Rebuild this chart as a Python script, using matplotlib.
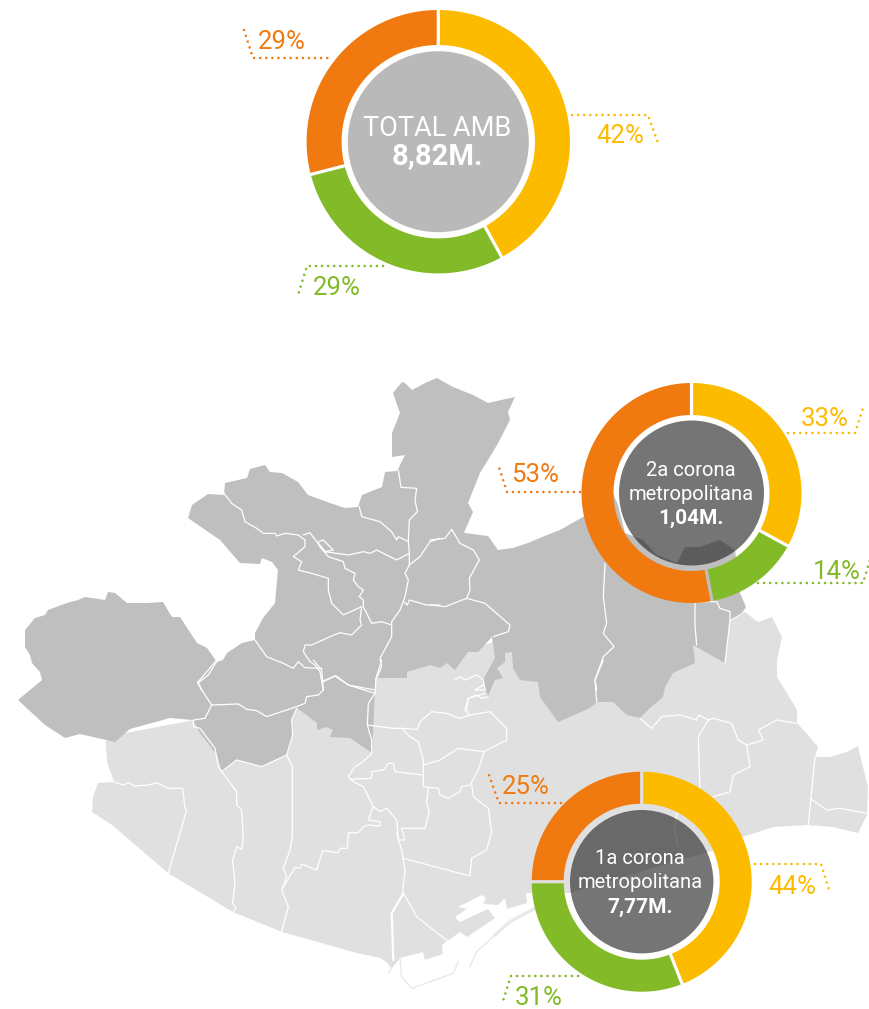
import numpy as np
import matplotlib
matplotlib.use('Agg')
import matplotlib.pyplot as plt
from matplotlib.patches import Polygon, Circle

W, H = 870, 1009

YELLOW = '#FDBB00'
GREEN = '#82BA28'
ORANGE = '#F17A10'
DARK_MAP = '#BFBFBF'
LIGHT_MAP = '#E0E0E0'
PORT = '#E9E9E9'

# share per donut, clockwise from the top: yellow, green, orange
total_amb = [42, 29, 29]
corona_2a = [33, 14, 53]
corona_1a = [44, 31, 25]
ring_colors = [YELLOW, GREEN, ORANGE]

total_title = 'TOTAL AMB'
total_value = '8,82M.'
corona_2a_title = ['2a corona', 'metropolitana']
corona_2a_value = '1,04M.'
corona_1a_title = ['1a corona', 'metropolitana']
corona_1a_value = '7,77M.'

# map outlines, picture pixels
dark_outline = [(393,393),(402,382),(405,383),(412,390),(427,382),(437,378),(453,387),(473,395),(488,403),(515,397),
    (508,412),(510,420),(497,445),(480,473),(468,503),(473,512),(463,535),(453,529),(465,533),(480,535),(488,536),
    (498,550),(513,548),(528,543),(547,535),(560,530),(583,517),(613,493),(618,505),(625,533),(643,540),(657,555),
    (677,563),(685,547),(700,547),(720,540),(735,550),(740,593),(746,607),(742,613),(730,620),(725,663),(707,653),
    (693,645),(695,663),(673,673),(665,687),(663,697),(650,708),(640,718),(627,715),(613,702),(597,702),(590,708),
    (558,722),(540,697),(538,682),(520,680),(513,668),(512,652),(505,653),(505,662),(497,668),(503,678),(495,680),
    (488,696),(483,680),(495,658),(492,637),(478,652),(468,652),(455,670),(447,663),(440,668),(430,665),(407,672),
    (407,678),(375,678),(375,693),
    (372,753),(350,738),(330,737),(333,730),(327,727),(317,730),(317,723),(297,708),(292,720),(293,735),(287,755),
    (262,767),(237,760),(222,772),(217,755),(200,733),(193,720),(170,718),(130,729),(115,742),(80,734),(65,738),
    (45,725),(18,700),(42,680),(40,672),(32,663),(30,655),(25,647),(25,630),(35,618),(45,615),(48,610),(67,603),
    (78,600),(85,597),(105,600),(108,592),(115,593),(127,603),(147,603),(163,602),(172,617),(180,617),(197,643),
    (207,648),(217,662),(223,660),(227,653),(242,643),(255,640),(255,633),(263,618),(275,603),(278,570),(272,562),
    (262,558),(260,564),(240,563),(220,540),(188,518),(192,505),(208,494),(224,495),(225,483),(247,478),(250,469),
    (265,465),(270,472),(282,473),(298,482),(308,495),(330,503),(345,508),(358,507),(362,495),(382,487),(385,472),
    (397,471),(405,455),(392,457),(392,433),(400,413)]
light_outline = [(105,742),(115,735),(300,700),(500,640),(700,640),(745,612),(758,622),(772,617),(782,637),(777,660),
    (777,677),(785,690),(797,710),(797,723),(808,735),(818,747),(815,757),(830,757),(847,752),(858,746),(863,767),
    (868,787),(867,815),(858,833),(833,827),(808,825),(773,827),(743,837),(715,850),(680,860),(570,893),(533,893),
    (526,893),(527,903),(507,909),(505,898),(498,905),(483,904),(486,898),(482,895),(458,907),(467,909),(455,917),
    (460,922),(488,909),(495,918),(467,937),(460,932),(442,945),(443,954),(425,960),(423,952),(400,958),(392,968),
    (388,963),(380,958),(357,953),(282,932),(233,912),
    (168,873),(112,825),(92,812),(93,797),(98,783),(113,782),(107,763)]

# inner borders (crop pixels, 3x)
borders_nw = [
    [(672,370),(695,400),(725,420),(735,455),(770,475),(790,490),(825,490),(830,498),(855,490),(895,495),(915,510),(915,530),(880,560),(905,575),(895,600),(935,610),(985,625),(985,660),(995,700),(1030,735),(1085,710),(1080,750),(1085,765),(1055,795),(1020,788),(990,800),(935,825),(915,825),(910,845),(930,875),(945,885),(960,905),(970,960)],
    [(910,495),(930,488),(950,515),(975,545),(1045,555),(1090,545),(1110,550),(1130,540),(1190,570),(1228,550)],
    [(955,515),(970,510),(1000,540),(975,545),(955,520),(960,530),(985,560),(1030,575),(1035,595),(1065,610),(1060,630),(1075,650),(1090,660),(1078,680),(1090,690),(1090,710),(1115,760),(1145,755),(1175,765)],
    [(1195,300),(1203,352),(1250,355),(1245,390),(1252,425),(1228,450),(1225,510),(1228,550),(1228,585),(1215,610),(1225,630),(1215,680),(1200,720),(1175,755),(1175,800),(1140,865),(1145,890),(1130,925)],
    [(1078,410),(1085,440),(1140,455),(1175,485),(1190,510),(1195,500),(1225,515)],
    [(1228,585),(1260,560),(1290,515),(1320,505)],
    [(1210,695),(1222,705),(1228,690),(1280,705),(1320,705)],
    [(765,810),(800,860),(850,880),(880,895),(895,875),(915,893),(965,895)],
    [(650,875),(625,915),(595,938),(605,960)],
    [(970,935),(1005,918),(1045,945),(1125,960)],
]
borders_ne = [
    [(0,510),(45,505),(65,478),(90,520),(130,540),(148,570),(118,625),(120,660),(110,685),(165,700),(240,765),(235,785),(190,800)],
    [(0,705),(45,710),(110,685)],
    [(525,580),(520,680),(530,760),(520,790),(552,830),(520,860),(495,930),(500,960)],
    [(795,700),(795,765),(800,825)],
    [(795,695),(860,695),(870,715),(900,725),(900,750),(885,880)],
]
borders_sw = [
    [(410,0),(385,30),(352,68),(375,105),(395,135),(375,175),(340,180),(340,200),(360,205),(405,265),(415,320),(425,335),(470,395),(470,435),(485,450),(490,530),(485,568),(470,560),(458,600),(465,670),(458,730),(468,745),(460,755)],
    [(395,135),(475,132),(500,148),(530,152),(560,170),(590,160),(650,140),(675,130),(680,110),(715,105),(730,90),(725,30),(700,0)],
    [(725,65),(767,47),(805,75),(885,100)],
    [(905,0),(888,55),(885,100),(865,130),(862,195),(875,240),(875,280),(850,305),(825,320),(805,350),(820,365),(850,380),(880,440),(865,480),(900,485),(900,498),(865,495),(850,500),(835,518),(805,518),(802,565),(780,565),(775,578),(728,572),(710,630),(665,612),(660,625),(645,622),(605,690),(625,740),(605,815)],
    [(650,145),(635,180),(638,225),(620,285),(637,320),(637,530),(630,570),(610,625),(620,650),(605,690)],
    [(620,285),(545,320),(470,300),(425,335)],
    [(862,195),(940,205),(965,205),(990,230),(1015,245),(1030,300),(1030,380),(1075,385),(1080,405),(1105,415),(1140,395),(1145,380),(1170,375),(1195,330),(1212,275),(1280,240),(1280,205),(1230,155),(1170,165),(1140,175),(1100,160),(1055,155),(1020,185),(1012,208),(965,205)],
    [(1030,315),(1080,300),(1135,265),(1212,275)],
    [(810,358),(875,355),(875,335),(910,330),(925,310),(940,310),(945,335),(1030,345)],
    [(1045,385),(1040,430),(1048,455),(1035,505),(965,505),(975,540),(955,540),(950,480),(920,445),(900,455),(880,440)],
    [(950,520),(965,570),(975,630),(968,695),(1010,770),(1105,845)],
    [(970,595),(1170,648),(1175,595),(1220,570),(1235,515),(1225,445),(1180,410),(1175,375)],
    [(1215,100),(1165,115),(1155,150),(1170,165)],
    [(75,245),(80,310),(100,365),(130,375),(145,368),(165,378),(205,375),(230,368),(265,385),(308,385),(315,445),(320,450),(265,640)],
]
borders_se = [
    [(480,175),(515,205),(545,170),(600,165),(650,180),(655,165),(685,180),(700,175),(755,190),(775,240),(800,255),(850,240),(835,210),(890,180),(950,190)],
    [(685,180),(655,230),(660,390)],
    [(800,255),(810,320),(760,345),(750,395),(700,410),(590,460),(583,510),(595,560)],
    [(1005,290),(985,495)],
    [(990,415),(1040,450),(1080,445),(1160,460)],
    [(370,0),(345,60),(350,125)],
]
borders_spike = [
    [(45,150),(60,140),(75,150),(110,135),(130,150),(135,180),(105,180),(130,165)],
    [(80,240),(85,205),(110,195),(125,205),(145,200)],
]
port_thick = [(70,40),(35,100),(40,240)]
port_lines = [
    [(60,235),(65,290),(95,325),(220,280),(235,245)],
    [(20,245),(35,265),(25,280)],
    [(270,260),(290,215),(345,165)],
]
port_band = [(345,165),(390,125),(465,85)]

# leader lines, picture pixels: (x, y) of the three corners
leader_lines = [
    (ORANGE, [(244,30),(253,58),(332,58)]),
    (YELLOW, [(572,115),(648,115),(658,143)]),
    (GREEN, [(383,266),(307,266),(298,295)]),
    (YELLOW, [(788,433),(855,433),(864,405)]),
    (ORANGE, [(580,492),(507,492),(498,464)]),
    (GREEN, [(758,583),(863,583),(870,560)]),
    (ORANGE, [(561,803),(499,803),(489,775)]),
    (YELLOW, [(755,864),(821,864),(830,893)]),
    (GREEN, [(578,976),(511,976),(502,1004)]),
]
FONT = ['Roboto', 'DejaVu Sans']


def crop(pts, ox, oy):
    return [(ox + x / 3.0, oy + y / 3.0) for x, y in pts]


def flip(pts):
    return [(x, H - y) for x, y in pts]


def ring_piece(cx, cy, r0, r1, a0, a1, gap=1.6):
    # constant width gap, so the map shows through between the pieces
    t_out = np.linspace(a0 + gap / r1, a1 - gap / r1, 80)
    t_in = np.linspace(a1 - gap / r0, a0 + gap / r0, 80)
    xs = np.r_[cx + r1 * np.sin(t_out), cx + r0 * np.sin(t_in)]
    ys = np.r_[cy + r1 * np.cos(t_out), cy + r0 * np.cos(t_in)]
    return np.c_[xs, ys]


def donut(ax, cx, cy, values, r0, r1, r_c, fill, alpha):
    cy = H - cy
    edges = np.cumsum([0] + list(values)) / float(sum(values)) * 2 * np.pi
    for i, col in enumerate(ring_colors):
        ax.add_patch(Polygon(ring_piece(cx, cy, r0, r1, edges[i], edges[i + 1]), closed=True, fc=col, ec='none', zorder=5))
    ax.add_patch(Circle((cx, cy), r_c, fc=fill, ec='none', alpha=alpha, zorder=5))


def label(ax, x, y, s, col, size, weight='normal'):
    ax.text(x, H - y, s, color=col, fontsize=size, fontweight=weight, family=FONT, ha='center', va='center', zorder=7)


def line(ax, pts, ox, oy, col, lw, z):
    xy = np.array(flip(crop(pts, ox, oy)))
    ax.plot(xy[:, 0], xy[:, 1], color=col, lw=lw, zorder=z, solid_joinstyle='round', solid_capstyle='round')


fig = plt.figure(figsize=(W / 100.0, H / 100.0), dpi=100)
ax = fig.add_axes([0, 0, 1, 1])
ax.set_xlim(0, W)
ax.set_ylim(0, H)
ax.axis('off')

ax.add_patch(Polygon(flip(light_outline), closed=True, fc=LIGHT_MAP, ec='none', zorder=1))
ax.add_patch(Polygon(flip(dark_outline), closed=True, fc=DARK_MAP, ec='none', zorder=2))

for pts in port_lines:
    line(ax, pts, 380, 880, PORT, 1.0, 2)
line(ax, port_band, 380, 880, PORT, 2.4, 2)
line(ax, port_thick, 380, 880, 'white', 1.6, 3)
for group, ox, oy in [(borders_nw, 0, 370), (borders_ne, 430, 370), (borders_sw, 80, 660), (borders_se, 480, 660), (borders_spike, 440, 630)]:
    for pts in group:
        line(ax, pts, ox, oy, 'white', 0.9, 3)

donut(ax, 438.3, 141.7, total_amb, 96.7, 131.7, 90.5, '#B9B9B9', 1.0)
donut(ax, 691.5, 493, corona_2a, 78, 110, 72.5, '#1A1A1A', 0.6)
donut(ax, 641.7, 881.7, corona_1a, 78, 110, 71.7, '#1A1A1A', 0.6)

for col, pts in leader_lines:
    xy = np.array(flip(pts))
    ax.plot(xy[:, 0], xy[:, 1], color=col, lw=1.9, ls=(0, (0.01, 2.3)), dash_capstyle='round', zorder=6)

pct = 18.5
label(ax, 282, 42, '%d%%' % total_amb[2], ORANGE, pct)
label(ax, 620, 136, '%d%%' % total_amb[0], YELLOW, pct)
label(ax, 337, 288, '%d%%' % total_amb[1], GREEN, pct)
label(ax, 825, 419, '%d%%' % corona_2a[0], YELLOW, pct)
label(ax, 535, 475, '%d%%' % corona_2a[2], ORANGE, pct)
label(ax, 837, 572, '%d%%' % corona_2a[1], GREEN, pct)
label(ax, 526, 787, '%d%%' % corona_1a[2], ORANGE, pct)
label(ax, 792, 887, '%d%%' % corona_1a[0], YELLOW, pct)
label(ax, 539, 998, '%d%%' % corona_1a[1], GREEN, pct)

label(ax, 437, 129, total_title, 'white', 19.5)
label(ax, 437, 156, total_value, 'white', 21, 'bold')
label(ax, 691, 470, corona_2a_title[0], 'white', 14.5)
label(ax, 691, 494, corona_2a_title[1], 'white', 14.5)
label(ax, 691, 518, corona_2a_value, 'white', 15, 'bold')
label(ax, 640, 859, corona_1a_title[0], 'white', 14.5)
label(ax, 640, 883, corona_1a_title[1], 'white', 14.5)
label(ax, 640, 907, corona_1a_value, 'white', 15, 'bold')

fig.savefig('out.png', dpi=100)
